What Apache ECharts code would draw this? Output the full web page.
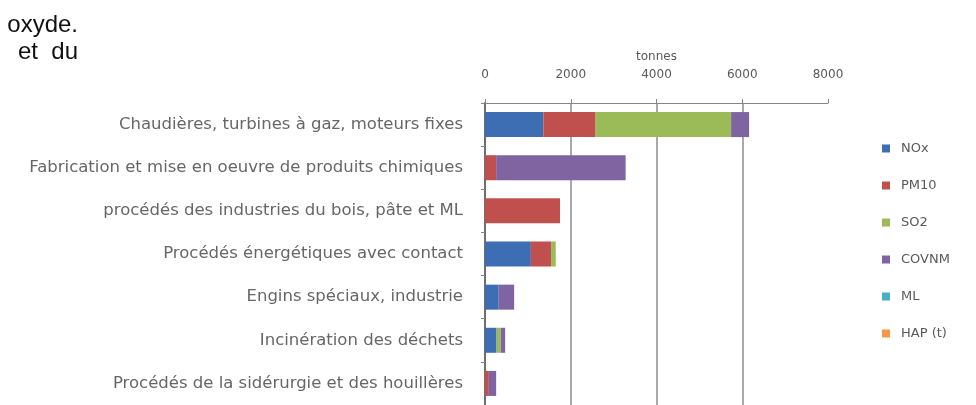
<!DOCTYPE html>
<html>
<head>
<meta charset="utf-8">
<script src="https://cdn.jsdelivr.net/npm/echarts@6/dist/echarts.min.js"></script>
<style>
  html, body { margin: 0; padding: 0; background: #fff; }
  #chart { width: 976px; height: 405px; }
</style>
</head>
<body>
<div id="chart"></div>
<script>
// categories, top to bottom
var categories = [
  'Chaudières, turbines à gaz, moteurs fixes',
  'Fabrication et mise en oeuvre de produits chimiques',
  'procédés des industries du bois, pâte et ML',
  'Procédés énergétiques avec contact',
  'Engins spéciaux, industrie',
  'Incinération des déchets',
  'Procédés de la sidérurgie et des houillères'
]
// tonnes per pollutant
var nox = [1360, 0, 0, 1070, 320, 270, 0]
var pm10 = [1220, 260, 1750, 470, 0, 0, 90]
var so2 = [3160, 0, 0, 110, 0, 100, 0]
var covnm = [420, 3020, 0, 0, 360, 100, 170]
var ml = [0, 0, 0, 0, 0, 0, 0]
var hap = [0, 0, 0, 0, 0, 0, 0]

var seriesNames = ['NOx', 'PM10', 'SO2', 'COVNM', 'ML', 'HAP (t)']
var seriesData = [nox, pm10, so2, covnm, ml, hap]
var colorData = ['#3D6DB3', '#C0504D', '#9BBB59', '#8064A2', '#4BACC6', '#F79646']

var chart = echarts.init(document.getElementById('chart'))

var seriesMsg = []
for (var i = 0; i < seriesNames.length; i++) {
  seriesMsg.push({
    name: seriesNames[i],
    type: 'bar',
    stack: 'total',
    barCategoryGap: '42%',
    itemStyle: { color: colorData[i] },
    data: seriesData[i]
  })
}

chart.setOption({
  animation: false,
  textStyle: { fontFamily: 'DejaVu Sans' },
  grid: { left: 485, top: 103, right: 148, bottom: 0 },
  legend: {
    orient: 'vertical',
    left: 877,
    top: 137,
    itemWidth: 8,
    itemHeight: 8,
    itemGap: 24,
    icon: 'rect',
    textStyle: { color: '#595959', fontSize: 13, padding: [0, 0, 0, 6] },
    data: seriesNames
  },
  xAxis: {
    type: 'value',
    position: 'top',
    min: 0,
    max: 8000,
    interval: 2000,
    name: 'tonnes',
    nameLocation: 'middle',
    nameGap: 40,
    nameTextStyle: { color: '#595959', fontSize: 12 },
    axisLine: { show: true, lineStyle: { color: '#868686' } },
    axisTick: { show: true, length: 4, lineStyle: { color: '#868686' } },
    axisLabel: {
      color: '#595959',
      fontSize: 12,
      margin: 22,
      formatter: function(v) { return String(v) }
    },
    splitLine: { show: true, showMaxLine: false, lineStyle: { color: '#8c8c8c', width: 1.5 } }
  },
  yAxis: {
    type: 'category',
    inverse: true,
    data: categories,
    axisLine: { show: true, lineStyle: { color: '#6e6e6e', width: 2 } },
    axisTick: { show: true, length: 4, lineStyle: { color: '#868686' } },
    axisLabel: { color: '#666666', fontSize: 16.5, margin: 22 }
  },
  graphic: [
    {
      type: 'text',
      right: 898,
      top: 13,
      style: { text: 'oxyde.', font: '24px "Liberation Sans"', fill: '#111' }
    },
    {
      type: 'text',
      right: 898,
      top: 40,
      style: { text: 'et  du', font: '24px "Liberation Sans"', fill: '#111' }
    }
  ],
  series: seriesMsg
})
</script>
</body>
</html>
